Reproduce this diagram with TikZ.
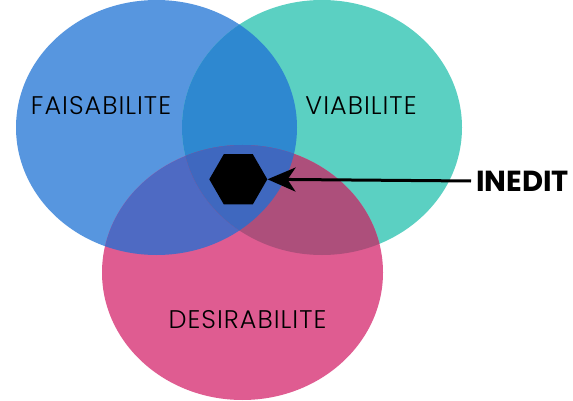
\documentclass[tikz,border=0pt]{standalone}
\usepackage{fontspec}
\setmainfont{Poppins}
\newfontfamily\legere{Poppins Light}[LetterSpace=4]
\usepackage{tikz}
\usetikzlibrary{positioning,arrows.meta,shapes.geometric}
\usepackage{xcolor}

\definecolor{faisa}{HTML}{5796DF}
\definecolor{viab}{HTML}{5BD0C2}
\definecolor{desir}{HTML}{DF5C91}
\definecolor{faisaviab}{HTML}{2E88D0}
\definecolor{faisadesir}{HTML}{4E6AC3}
\definecolor{viabdesir}{HTML}{AD4F7B}
\definecolor{trois}{HTML}{3F68BF}

\newcommand{\ellF}{(156.5,127.5) ellipse [x radius=140.5, y radius=127.5]}
\newcommand{\ellV}{(322,127.5) ellipse [x radius=140, y radius=127.5]}
\newcommand{\ellD}{(242.5,272.5) ellipse [x radius=140.5, y radius=127.5]}

\begin{document}
\begin{tikzpicture}[x=1pt,y=-1pt]
\useasboundingbox (0,0) rectangle (573,401);
% cercles
\fill[faisa] \ellF;
\fill[viab] \ellV;
\fill[desir] \ellD;
% intersections
\begin{scope} \clip \ellF; \fill[faisaviab] \ellV; \end{scope}
\begin{scope} \clip \ellF; \fill[faisadesir] \ellD; \end{scope}
\begin{scope} \clip \ellV; \fill[viabdesir] \ellD; \end{scope}
\begin{scope} \clip \ellF; \clip \ellV; \fill[trois] \ellD; \end{scope}
% textes
\node (faisab) at (101,106) [font=\fontsize{25.5}{25}\selectfont\legere] {FAISABILITE};
\node (viabil) at (361,106) [font=\fontsize{25.5}{25}\selectfont\legere] {VIABILITE};
\node (desira) at (247.5,320) [font=\fontsize{25.5}{25}\selectfont\legere] {DESIRABILITE};
\node (hex) at (238.3,179.3) [regular polygon,regular polygon sides=6,fill=black,inner sep=0pt,minimum size=58pt] {};
\node (inedit) at (471,181) [anchor=west,inner sep=5pt,font=\fontsize{29}{29}\selectfont\bfseries] {INEDIT};
\draw[line width=3pt,-{Stealth[length=28pt,width=24pt,inset=8pt]}] (inedit.west) -- (hex.east);
\end{tikzpicture}
\end{document}
